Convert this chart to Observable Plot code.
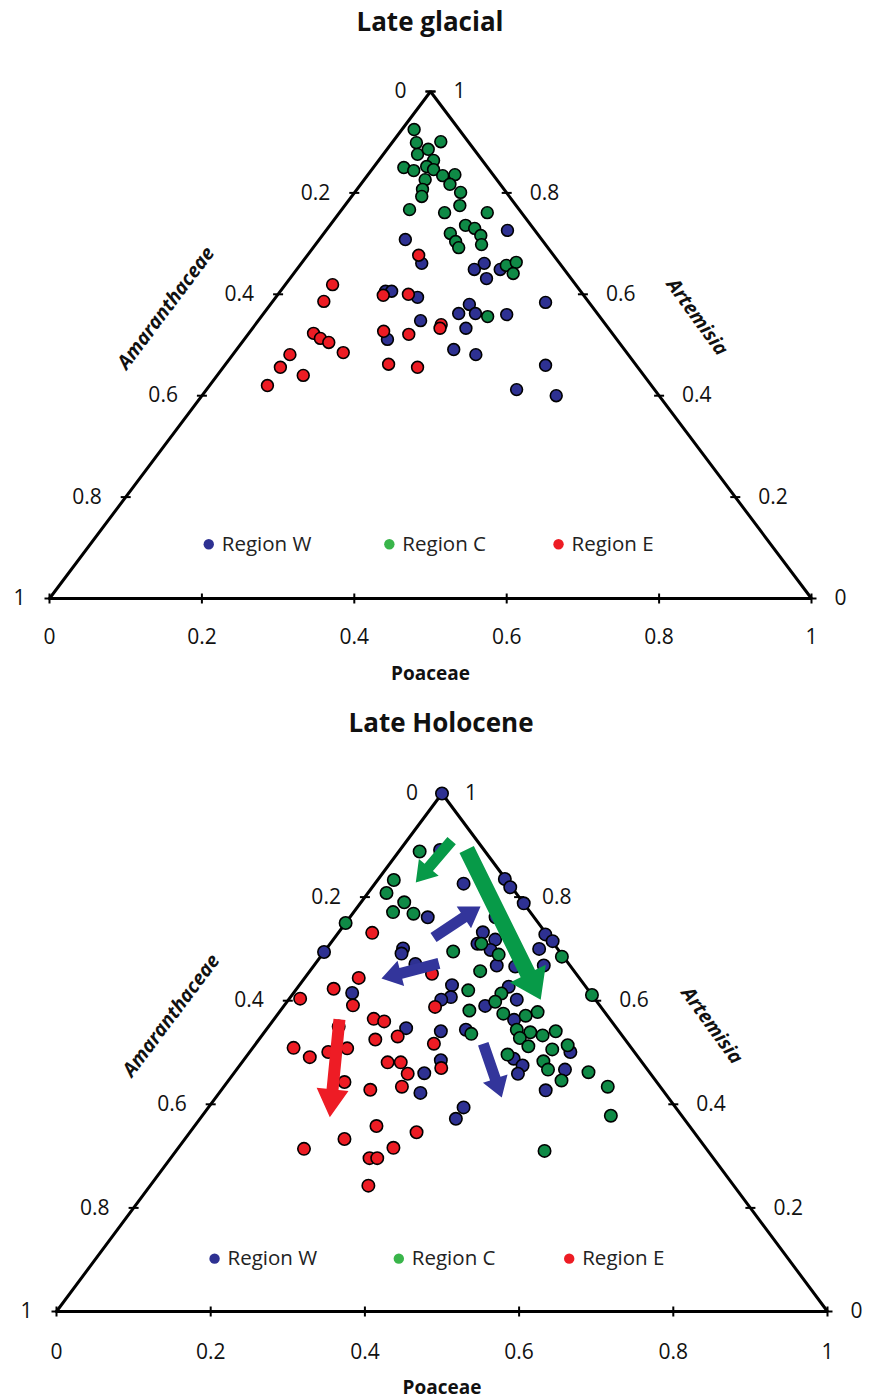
<!DOCTYPE html>
<html>
<head>
<meta charset="utf-8">
<script src="https://cdn.jsdelivr.net/npm/d3@7"></script>
<script src="https://cdn.jsdelivr.net/npm/@observablehq/plot@0.6"></script>
<style>
  body { margin: 0; background: #fff; font-family: "Open Sans", sans-serif; color: #111; }
  #page { width: 869px; }
  .tblock { position: relative; width: 869px; }
  .tblock span { position: absolute; transform: translate(-50%, -50%); font-weight: 700; font-size: 26px; white-space: nowrap; }
  svg { display: block; }
</style>
</head>
<body>
<div id="page"></div>
<script>
// ---------- DATA ----------
const panelTitles = ["Late glacial", "Late Holocene"];
const tickValues = [0, 0.2, 0.4, 0.6, 0.8, 1];
const regionNames = ["Region W", "Region C", "Region E"];
const axisBottom = "Poaceae";
const axisLeft = "Amaranthaceae";
const axisRight = "Artemisia";

// samples as [Poaceae, Artemisia]; Amaranthaceae = 1 - Poaceae - Artemisia
const glacialW = [[0.113,0.708],[0.238,0.726],[0.158,0.661],[0.240,0.661],[0.233,0.649],[0.267,0.649],[0.258,0.631],[0.186,0.594],[0.138,0.606],[0.146,0.606],[0.261,0.580],[0.256,0.562],[0.278,0.562],[0.320,0.560],[0.359,0.584],[0.280,0.533],[0.213,0.548],[0.188,0.511],[0.285,0.491],[0.319,0.481],[0.421,0.460],[0.407,0.412],[0.465,0.400]];
const glacialC = [[0.016,0.925],[0.032,0.899],[0.063,0.901],[0.045,0.876],[0.054,0.886],[0.072,0.864],[0.040,0.850],[0.056,0.844],[0.069,0.852],[0.081,0.846],[0.099,0.834],[0.114,0.836],[0.080,0.826],[0.117,0.817],[0.086,0.807],[0.092,0.793],[0.139,0.801],[0.151,0.775],[0.089,0.767],[0.138,0.761],[0.194,0.761],[0.178,0.736],[0.193,0.730],[0.166,0.720],[0.208,0.716],[0.181,0.704],[0.218,0.698],[0.191,0.692],[0.271,0.657],[0.281,0.663],[0.288,0.641],[0.297,0.556]];
const glacialE = [[0.146,0.677],[0.171,0.600],[0.062,0.619],[0.067,0.586],[0.139,0.598],[0.085,0.523],[0.099,0.513],[0.114,0.505],[0.175,0.527],[0.211,0.521],[0.244,0.540],[0.246,0.533],[0.143,0.485],[0.075,0.481],[0.075,0.456],[0.113,0.440],[0.076,0.420],[0.214,0.462],[0.255,0.456]];

const holoceneW = [[0,1],[0.052,0.891],[0.115,0.826],[0.164,0.835],[0.179,0.819],[0.212,0.788],[0.189,0.761],[0.187,0.732],[0.210,0.718],[0.191,0.710],[0.214,0.698],[0.270,0.728],[0.286,0.715],[0.276,0.700],[0.298,0.668],[0.262,0.666],[0.237,0.668],[0.198,0.630],[0.208,0.607],[0.273,0.627],[0.261,0.590],[0.296,0.602],[0,0.694],[0.099,0.701],[0.102,0.691],[0.130,0.671],[0.101,0.761],[0.076,0.615],[0.198,0.602],[0.180,0.547],[0.228,0.541],[0.256,0.485],[0.247,0.460],[0.261,0.422],[0.331,0.394],[0.332,0.372],[0.259,0.544],[0.312,0.563],[0.416,0.501],[0.349,0.488],[0.367,0.475],[0.369,0.459],[0.426,0.467],[0.421,0.427]];
const holoceneC = [[0.027,0.888],[0.021,0.833],[0.024,0.808],[0.056,0.790],[0.051,0.771],[0.079,0.768],[0,0.750],[0.167,0.695],[0.196,0.710],[0.229,0.689],[0.221,0.657],[0.313,0.685],[0.389,0.611],[0.224,0.620],[0.270,0.614],[0.270,0.598],[0.245,0.581],[0.335,0.578],[0.292,0.575],[0.323,0.571],[0.270,0.536],[0.325,0.544],[0.345,0.539],[0.364,0.533],[0.377,0.541],[0.337,0.528],[0.356,0.512],[0.390,0.506],[0.406,0.514],[0.337,0.496],[0.390,0.483],[0.404,0.467],[0.432,0.446],[0.459,0.462],[0.498,0.434],[0.530,0.378],[0.478,0.310]];
const holoceneE = [[0.044,0.731],[0.070,0.644],[0.048,0.623],[0.014,0.604],[0.089,0.591],[0.161,0.652],[0.197,0.588],[0.129,0.565],[0.145,0.560],[0.177,0.531],[0.151,0.525],[0.231,0.517],[0.091,0.550],[0.123,0.508],[0.102,0.501],[0.053,0.509],[0.083,0.491],[0.189,0.481],[0.206,0.481],[0.226,0.459],[0.264,0.470],[0.152,0.443],[0.193,0.428],[0.231,0.434],[0.236,0.358],[0.294,0.346],[0.207,0.333],[0.164,0.314],[0.279,0.316],[0.258,0.296],[0.268,0.296],[0.283,0.243]];

// trend arrows (Late Holocene), compositions [Poaceae, Artemisia] from -> to
const holoceneArrows = [
  {region: "C", size: "big",   from: [0.086,0.892], to: [0.327,0.602]},
  {region: "C", size: "small", from: [0.058,0.909], to: [0.052,0.828]},
  {region: "W", size: "small", from: [0.128,0.722], to: [0.159,0.782]},
  {region: "W", size: "small", from: [0.160,0.672], to: [0.100,0.643]},
  {region: "W", size: "small", from: [0.295,0.517], to: [0.371,0.413]},
  {region: "E", size: "red",   from: [0.085,0.564], to: [0.167,0.375]}
];

// ---------- STYLE / LAYOUT ----------
const pointColor = {W: "#2e3192", C: "#0f8a46", E: "#ed1c24"};
const legendColor = {W: "#2e3192", C: "#39b54a", E: "#ed1c24"};
const arrowColor = {W: "#33359b", C: "#079a48", E: "#ee1c25"};
const arrowSize = {
  big:   {shaft: 16, head: 40, len: 29},
  small: {shaft: 11, head: 26, len: 20},
  red:   {shaft: 12, head: 32, len: 28}
};

const X = d => d[0] + d[1] / 2;   // ternary -> cartesian
const Y = d => d[1];

const hTick = {draw(ctx, size) { const h = Math.sqrt(size / Math.PI); ctx.moveTo(-h, 0); ctx.lineTo(h, 0); }};
const vTick = {draw(ctx, size) { const h = Math.sqrt(size / Math.PI); ctx.moveTo(0, -h); ctx.lineTo(0, h); }};

function arrowPolygon(a, kx, ky) {
  const s = arrowSize[a.size];
  const x1 = X(a.from), y1 = Y(a.from), x2 = X(a.to), y2 = Y(a.to);
  const ux = (x2 - x1) * kx, uy = (y2 - y1) * ky, L = Math.hypot(ux, uy);
  const dx = ux / L, dy = uy / L, nx = -dy, ny = dx;
  const neck = L - s.len, w = s.shaft / 2, hw = s.head / 2;
  const pts = [[0, w], [neck, w], [neck, hw], [L, 0], [neck, -hw], [neck, -w], [0, -w], [0, w]];
  return pts.map(([t, n]) => ({x: x1 + (dx * t + nx * n) / kx, y: y1 + (dy * t + ny * n) / ky}));
}

function ternary(cfg) {
  const {width, height, mL, mR, mT, mB, series, arrows, r, legendX, legendY, tickDy, titleDy, leftOff, rightOff} = cfg;
  const kx = width - mL - mR, ky = height - mT - mB;
  const frame = [[0,0],[1,0],[0,1],[0,0]];
  const left = tickValues.map(v => ({v, p: [0, 1 - v]}));
  const right = tickValues.map(v => ({v, p: [1 - v, v]}));
  const base = tickValues.map(v => ({v, p: [v, 0]}));
  const PX = d => X(d.p), PY = d => Y(d.p);
  const legend = ["W", "C", "E"].map((k, i) => ({k, name: regionNames[i], x: legendX[i]}));
  const marks = [
    Plot.line(frame, {x: X, y: Y, stroke: "#000", strokeWidth: 3, strokeLinejoin: "miter"}),
    Plot.dot([...left, ...right], {x: PX, y: PY, symbol: hTick, r: 5, stroke: "#000", strokeWidth: 2, fill: "none"}),
    Plot.dot(base, {x: PX, y: PY, symbol: vTick, r: 5, stroke: "#000", strokeWidth: 2, fill: "none"}),
    Plot.text(left, {x: PX, y: PY, text: d => String(d.v), textAnchor: "end", dx: -24, fontSize: 21, fill: "#111"}),
    Plot.text(right, {x: PX, y: PY, text: d => String(d.v), textAnchor: "start", dx: 23, fontSize: 21, fill: "#111"}),
    Plot.text(base, {x: PX, y: PY, text: d => String(d.v), dy: tickDy, fontSize: 21, fill: "#111"}),
    Plot.text([axisBottom], {x: () => 0.5, y: () => 0, text: d => d, dy: titleDy, fontSize: 19, fontWeight: "bold", fill: "#111"}),
    Plot.text([axisLeft], {x: () => 0.25, y: () => 0.5, text: d => d, dx: leftOff[0], dy: leftOff[1], rotate: -53, fontSize: 19.5, fontWeight: "bold", fontStyle: "italic", fill: "#111"}),
    Plot.text([axisRight], {x: () => 0.75, y: () => 0.5, text: d => d, dx: rightOff[0], dy: rightOff[1], rotate: 54, fontSize: 19.5, fontWeight: "bold", fontStyle: "italic", fill: "#111"}),
    Plot.dot(legend, {x: "x", y: () => legendY, r: 5.2, fill: d => legendColor[d.k], stroke: "none"}),
    Plot.text(legend, {x: "x", y: () => legendY, text: "name", textAnchor: "start", dx: 13, fontSize: 20.5, fill: "#222"}),
    ...["W", "C", "E"].map(k => Plot.dot(series[k], {x: X, y: Y, r, fill: pointColor[k], stroke: "#000", strokeWidth: 1.6})),
    ...arrows.map(a => Plot.line(arrowPolygon(a, kx, ky), {x: "x", y: "y", fill: arrowColor[a.region], stroke: "none"}))
  ];
  return Plot.plot({
    width, height, marginLeft: mL, marginRight: mR, marginTop: mT, marginBottom: mB,
    x: {domain: [0, 1], axis: null},
    y: {domain: [0, 1], axis: null},
    style: {fontFamily: "Open Sans, sans-serif", background: "#fff", overflow: "visible"},
    marks
  });
}

function titleBlock(text, h, cx, cy) {
  const d = document.createElement("div");
  d.className = "tblock";
  d.style.height = h + "px";
  const s = document.createElement("span");
  s.textContent = text;
  s.style.left = cx + "px";
  s.style.top = cy + "px";
  d.appendChild(s);
  return d;
}

const page = document.getElementById("page");
page.appendChild(titleBlock(panelTitles[0], 44, 430, 21));
page.appendChild(ternary({
  width: 869, height: 651, mL: 49, mR: 58, mT: 47, mB: 97,
  series: {W: glacialW, C: glacialC, E: glacialE}, arrows: [], r: 5.9,
  legendX: [0.209, 0.446, 0.668], legendY: 0.107, tickDy: 39, titleDy: 75,
  leftOff: [-74, -37], rightOff: [76, -28]
}));
page.appendChild(titleBlock(panelTitles[1], 55, 441, 27));
page.appendChild(ternary({
  width: 869, height: 647, mL: 56, mR: 42, mT: 43, mB: 86,
  series: {W: holoceneW, C: holoceneC, E: holoceneE}, arrows: holoceneArrows, r: 6.2,
  legendX: [0.205, 0.444, 0.665], legendY: 0.102, tickDy: 41, titleDy: 76,
  leftOff: [-78, -37], rightOff: [77, -27]
}));
</script>
</body>
</html>
